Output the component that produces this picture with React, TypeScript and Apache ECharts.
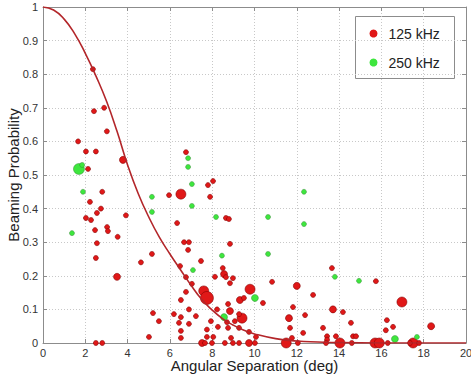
import React, { useEffect, useRef } from "react";
import * as echarts from "echarts";

// 125 kHz observations: [angular separation (deg), beaming probability, weight class]
const red125: number[][] = [
  [2.36, 0.815, 1], [2.41, 0.69, 1], [2.89, 0.70, 1], [3.02, 0.63, 1], [1.66, 0.60, 1],
  [2.03, 0.57, 1], [2.50, 0.57, 1], [3.78, 0.545, 2], [2.13, 0.518, 1], [2.80, 0.45, 1],
  [2.22, 0.42, 1], [2.74, 0.40, 1], [2.55, 0.387, 1], [3.92, 0.38, 1], [2.03, 0.372, 1],
  [2.27, 0.366, 1], [3.03, 0.345, 1], [3.07, 0.333, 1], [2.46, 0.336, 1], [3.53, 0.316, 1],
  [2.55, 0.297, 1], [2.50, 0.253, 1], [4.63, 0.24, 1], [5.15, 0.265, 1], [3.50, 0.197, 2],
  [5.20, 0.089, 1], [5.48, 0.065, 1], [5.01, 0.018, 1], [2.50, 0, 1], [2.80, 0, 1],
  [6.67, 0.30, 1], [6.90, 0.30, 1], [6.86, 0.277, 1], [6.48, 0.229, 1], [6.76, 0.196, 1],
  [7.04, 0.176, 1], [6.76, 0.152, 1], [7.60, 0.155, 3], [7.75, 0.134, 4], [6.52, 0.128, 1],
  [6.90, 0.10, 1], [6.19, 0.086, 1], [6.52, 0.077, 1], [7.23, 0.08, 1], [6.43, 0.06, 1],
  [6.90, 0.057, 1], [6.52, 0.036, 1], [6.52, 0.015, 1], [7.52, 0, 2], [7.75, 0.018, 1],
  [8.84, 0.295, 1], [7.47, 0.244, 1], [8.56, 0.205, 2], [8.13, 0.197, 1], [8.65, 0.196, 1],
  [8.98, 0.193, 1], [8.84, 0.178, 1], [10.83, 0.182, 1], [12.0, 0.17, 2], [9.79, 0.16, 3],
  [9.31, 0.128, 2], [10.40, 0.119, 1], [8.75, 0.116, 1], [9.50, 0.134, 1], [8.84, 0.095, 2],
  [8.23, 0.10, 1], [9.41, 0.074, 3], [9.27, 0.086, 1], [11.82, 0.107, 1], [11.63, 0.074, 2],
  [12.39, 0.083, 1], [7.94, 0.065, 1], [8.70, 0.062, 1], [8.27, 0.048, 1], [9.27, 0.045, 1],
  [8.75, 0.045, 1], [11.68, 0.045, 1], [9.74, 0.033, 1], [7.75, 0.04, 1], [8.89, 0.015, 1],
  [10.07, 0.018, 1], [11.77, 0.015, 1], [7.66, 0, 1], [7.99, 0, 1], [8.60, 0, 1],
  [8.98, 0, 1], [9.27, 0, 1], [9.74, 0, 2], [10.02, 0, 1], [11.50, 0, 3],
  [12.05, 0, 1], [8.50, 0.223, 1], [9.07, 0.065, 1], [8.05, 0.018, 1], [13.66, 0.223, 1],
  [15.74, 0.184, 1], [12.77, 0.143, 1], [13.71, 0.10, 2], [14.18, 0.092, 1], [14.56, 0.06, 1],
  [13.24, 0.045, 1], [16.26, 0.068, 1], [16.21, 0.038, 1], [13.43, 0.02, 1], [13.85, 0.02, 1],
  [14.66, 0.02, 1], [14.80, 0.02, 1], [12.30, 0.03, 1], [13.43, 0.01, 1], [14.04, 0, 3],
  [15.70, 0, 3], [15.90, 0, 3], [13.38, 0, 1], [14.60, 0, 1], [16.97, 0.122, 3],
  [18.35, 0.05, 2], [16.55, 0.048, 1], [17.50, 0, 3], [17.35, 0, 1], [16.30, 0, 1],
  [17.78, 0, 1], [6.76, 0.568, 1], [8.04, 0.482, 1], [7.80, 0.47, 1], [5.96, 0.44, 1],
  [6.52, 0.443, 3], [7.90, 0.435, 1], [8.65, 0.372, 1], [8.79, 0.369, 1], [6.34, 0.357, 1],
];

// 250 kHz observations
const green250: number[][] = [
  [1.70, 0.518, 3], [1.85, 0.53, 1], [1.89, 0.45, 1], [1.37, 0.327, 1], [5.15, 0.435, 1],
  [5.15, 0.39, 1], [6.86, 0.55, 1], [6.86, 0.524, 1], [7.04, 0.473, 1], [7.04, 0.408, 1],
  [8.18, 0.375, 1], [10.64, 0.375, 1], [12.34, 0.45, 1], [12.34, 0.354, 1], [7.09, 0.217, 1],
  [8.46, 0.26, 1], [10.64, 0.265, 1], [10.02, 0.134, 2], [8.56, 0.077, 2], [13.80, 0.197, 1],
  [14.94, 0.185, 1], [16.64, 0.012, 2], [17.68, 0.018, 1],
];

// Fitted model curve
const curveX = [0, 0.5, 1, 1.5, 2, 2.5, 3, 3.5, 4, 4.5, 5, 5.5, 6, 6.5, 7, 7.5, 8, 8.5, 9, 9.5, 10, 11, 12, 13, 14, 16, 20];
const curveY = [1, 0.991, 0.964, 0.92, 0.862, 0.795, 0.72, 0.63, 0.53, 0.445, 0.375, 0.315, 0.265, 0.218, 0.172, 0.13, 0.098, 0.072, 0.053, 0.038, 0.027, 0.013, 0.006, 0.003, 0.001, 0, 0];

const xTicks = { min: 0, max: 20, interval: 2 };
const yTicks = { min: 0, max: 1, interval: 0.1 };
const legendLabels = ["125 kHz", "250 kHz"];

const RED = "#e01818";
const GREEN = "#3ee63e";
const sizeOf = (w: number) => [0, 5, 7, 10, 13][w] || 5;

export default function App() {
  const ref = useRef<HTMLDivElement>(null);
  useEffect(() => {
    if (!ref.current) return;
    const chart = echarts.init(ref.current, undefined, { renderer: "svg" });
    const font = "Liberation Sans, Arial, Helvetica, sans-serif";
    const axisColor = "#8c8c8c";
    const baseX = {
      type: "value",
      min: xTicks.min,
      max: xTicks.max,
      interval: xTicks.interval,
      axisLine: { show: true, onZero: false, lineStyle: { color: axisColor, width: 1 } },
      axisTick: { show: true, inside: true, length: 4, lineStyle: { color: axisColor } },
    };
    const baseY = {
      type: "value",
      min: yTicks.min,
      max: yTicks.max,
      interval: yTicks.interval,
      axisLine: { show: true, onZero: false, lineStyle: { color: axisColor, width: 1 } },
      axisTick: { show: true, inside: true, length: 4, lineStyle: { color: axisColor } },
    };
    const option: any = {
      animation: false,
      backgroundColor: "#ffffff",
      grid: { left: 43, top: 7, right: 5, bottom: 36, containLabel: false, outerBoundsMode: "none" },
      xAxis: [
        {
          ...baseX,
          position: "bottom",
          axisLabel: { color: "#333", fontSize: 11, margin: 4, fontFamily: font },
          splitLine: { show: true, lineStyle: { type: [1, 2], color: "#c8c8c8", width: 1 } },
          name: "Angular Separation (deg)",
          nameLocation: "middle",
          nameGap: 15,
          nameMoveOverlap: false,
          nameTextStyle: { fontSize: 15, color: "#222", fontFamily: font },
        },
        { ...baseX, position: "top", axisLabel: { show: false }, splitLine: { show: false } },
      ],
      yAxis: [
        {
          ...baseY,
          position: "left",
          axisLabel: { color: "#333", fontSize: 11, margin: 5, fontFamily: font },
          splitLine: { show: true, lineStyle: { type: [1, 2], color: "#c8c8c8", width: 1 } },
          name: "Beaming Probability",
          nameLocation: "middle",
          nameGap: 22,
          nameMoveOverlap: false,
          nameTextStyle: { fontSize: 15, color: "#222", fontFamily: font },
        },
        { ...baseY, position: "right", axisLabel: { show: false }, splitLine: { show: false } },
      ],
      series: [
        {
          name: legendLabels[0],
          type: "scatter",
          data: red125,
          symbol: "circle",
          symbolSize: (v: number[]) => sizeOf(v[2]),
          itemStyle: { color: RED, borderColor: "rgba(130,0,0,0.7)", borderWidth: 0.8, opacity: 1 },
          z: 3,
        },
        {
          name: legendLabels[1],
          type: "scatter",
          data: green250,
          symbol: "circle",
          symbolSize: (v: number[]) => sizeOf(v[2]) + (v[2] === 3 ? 1 : 0),
          itemStyle: { color: GREEN, borderColor: "rgba(40,120,40,0.5)", borderWidth: 0.8, opacity: 1 },
          z: 3,
        },
        {
          name: "model",
          type: "line",
          data: curveX.map((x, i) => [x, curveY[i]]),
          smooth: 0.5,
          showSymbol: false,
          symbol: "none",
          lineStyle: { color: "#b3262a", width: 1.6 },
          z: 4,
        },
      ],
      graphic: [
        {
          type: "group",
          left: 355,
          top: 16,
          z: 100,
          children: [
            { type: "rect", shape: { x: 0, y: 0, width: 99, height: 62 }, style: { fill: "#fff", stroke: "#8c8c8c", lineWidth: 1 } },
            { type: "circle", shape: { cx: 18, cy: 17, r: 4 }, style: { fill: RED } },
            { type: "circle", shape: { cx: 18, cy: 46, r: 4 }, style: { fill: GREEN } },
            { type: "text", x: 33, y: 17, style: { text: legendLabels[0], fontSize: 14, fill: "#222", fontFamily: font, verticalAlign: "middle" } },
            { type: "text", x: 33, y: 46, style: { text: legendLabels[1], fontSize: 14, fill: "#222", fontFamily: font, verticalAlign: "middle" } },
          ],
        },
      ],
    };
    chart.setOption(option);
    return () => chart.dispose();
  }, []);
  return <div ref={ref} style={{ width: 471, height: 379, position: "absolute", left: 0, top: 0 }} />;
}
